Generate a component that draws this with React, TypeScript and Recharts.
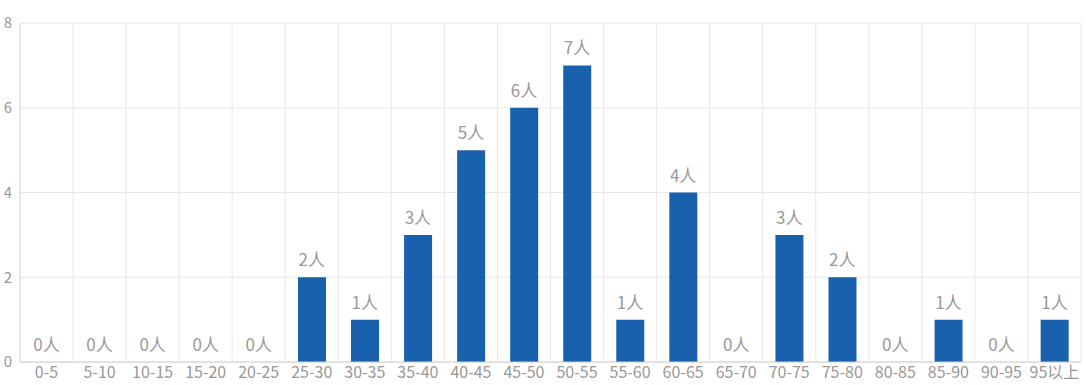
import { Bar, ComposedChart, CartesianGrid, LabelList, Line, XAxis, YAxis } from "recharts";

const ageGroups = [
  "0-5", "5-10", "10-15", "15-20", "20-25", "25-30", "30-35", "35-40", "40-45", "45-50",
  "50-55", "55-60", "60-65", "65-70", "70-75", "75-80", "80-85", "85-90", "90-95", "95以上",
];
const counts = [0, 0, 0, 0, 0, 2, 1, 3, 5, 6, 7, 1, 4, 0, 3, 2, 0, 1, 0, 1];
const yTicks = [0, 2, 4, 6, 8];

const data = ageGroups.map((group, i) => ({ group, count: counts[i] }));

const font = "'Noto Sans CJK SC', 'Open Sans', sans-serif";

const App = () => {
  return (
    <div style={{ position: "absolute", left: 0, top: 0, fontFamily: font }}>
      <ComposedChart
        width={1086}
        height={385}
        data={data}
        margin={{ top: 23, right: 5, bottom: 0, left: 0 }}
        barCategoryGap="24%"
      >
        <CartesianGrid
          stroke="#e8e8e8"
          verticalCoordinatesGenerator={({ offset }: any) =>
            ageGroups.map((_, i) => offset.left + ((i + 1) * offset.width) / ageGroups.length)
          }
        />
        <XAxis
          dataKey="group"
          interval={0}
          tickLine={false}
          axisLine={{ stroke: "#d0d0d0" }}
          tick={{ fill: "#999", fontSize: 16 }}
          tickMargin={-1}
          height={23}
        />
        <YAxis
          domain={[0, 8]}
          ticks={yTicks}
          width={20}
          tickLine={false}
          axisLine={{ stroke: "#d0d0d0" }}
          tick={{ fill: "#999", fontSize: 15 }}
          tickMargin={2}
        />
        <Bar dataKey="count" fill="#1a61ad" isAnimationActive={false} />
        <Line
          dataKey="count"
          stroke="none"
          dot={false}
          activeDot={false}
          isAnimationActive={false}
        >
          <LabelList
            dataKey="count"
            position="top"
            offset={11}
            formatter={(v: any) => `${v}人`}
            style={{ fill: "#999", fontSize: 17 }}
          />
        </Line>
      </ComposedChart>
    </div>
  );
};

export default App;
